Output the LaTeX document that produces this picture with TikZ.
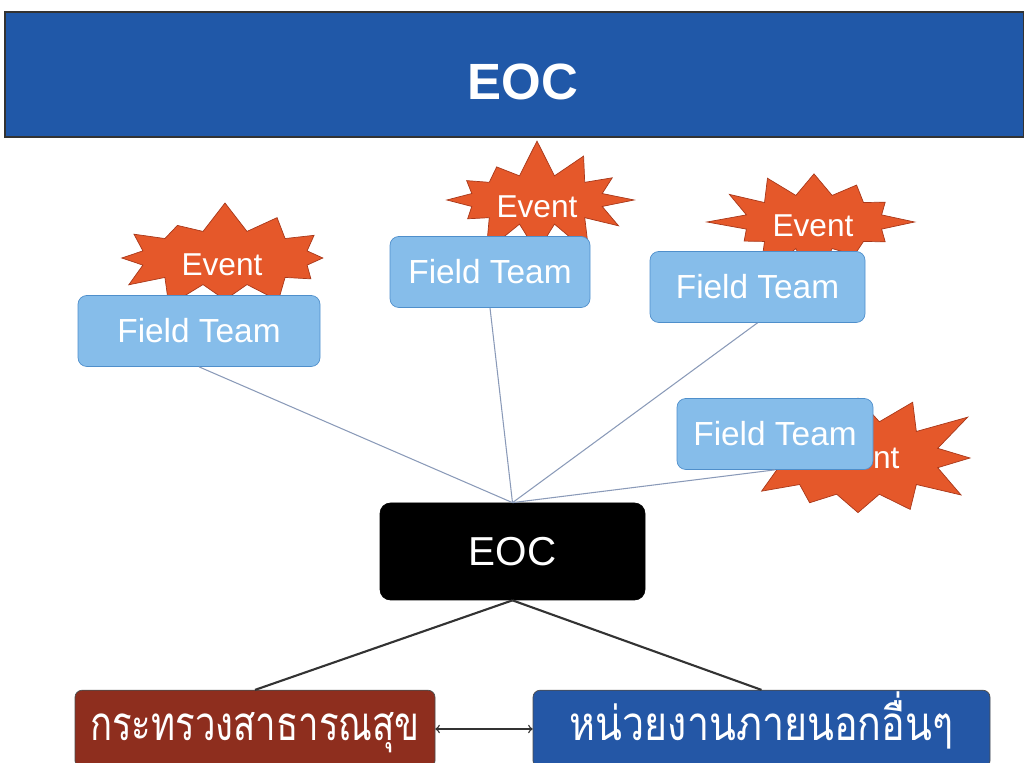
\documentclass[tikz,border=0pt]{standalone}
\usepackage{fontspec}
\setmainfont{Liberation Sans}
\newfontfamily\thaifont[Script=Thai]{Loma}
\usetikzlibrary{shapes.symbols}

\definecolor{bannerblue}{HTML}{2058A8}
\definecolor{ftfill}{HTML}{86BDEA}
\definecolor{ftline}{HTML}{4F8FCB}
\definecolor{evfill}{HTML}{E5582A}
\definecolor{evline}{HTML}{A8381A}
\definecolor{mophred}{HTML}{8E2E1E}
\definecolor{otherblue}{HTML}{2457A6}
\definecolor{spoke}{HTML}{8A9AB8}

\tikzset{
  fieldteam/.style={rectangle, rounded corners=5pt, draw=ftline, fill=ftfill, text=white,
    font=\fontsize{19}{19}\selectfont, minimum height=1.42cm},
  event/.style={starburst, starburst points=12, draw=evline, fill=evfill, inner sep=0pt},
  eventtext/.style={text=white, font=\fontsize{18}{18}\selectfont},
  unit/.style={rectangle, rounded corners=4pt, draw=black!70, text=white,
    font=\thaifont\fontsize{27}{27}\selectfont, text height=0.75cm, text depth=0.3cm,
    inner sep=0.25cm},
}

\begin{document}
\begin{tikzpicture}
\useasboundingbox (0,0) rectangle (20.48,15.26);
\filldraw [fill=bannerblue, draw=black!80, line width=1pt] (0.1,12.52) rectangle (20.48,15.02);
\node[text=white, font=\bfseries\fontsize{29}{29}\selectfont] (title) at (10.46,13.62) {EOC};

\node[event, minimum width=5.0cm, minimum height=2.7cm, starburst point height=0.8cm, random starburst=31] (ev1) at (4.5,10.1) {};
\node[event, minimum width=4.2cm, minimum height=2.5cm, starburst point height=0.75cm, random starburst=7] (ev2) at (10.74,11.26) {};
\node[event, minimum width=4.4cm, minimum height=2.7cm, starburst point height=0.8cm, random starburst=12] (ev3) at (16.28,10.82) {};
\node[event, minimum width=5.1cm, minimum height=3.3cm, starburst point height=0.9cm, random starburst=45] (ev4) at (17.16,6.1) {};
\node[eventtext] (evt1) at (4.44,9.96) {Event};
\node[eventtext] (evt2) at (10.74,11.12) {Event};
\node[eventtext] (evt3) at (16.26,10.74) {Event};
\node[eventtext] (evt4) at (17.18,6.1) {Event};

\node[fieldteam, minimum width=4.84cm] (ft1) at (3.98,8.64) {Field Team};
\node[fieldteam, minimum width=4.0cm] (ft2) at (9.8,9.82) {Field Team};
\node[fieldteam, minimum width=4.3cm] (ft3) at (15.15,9.52) {Field Team};
\node[fieldteam, minimum width=3.92cm] (ft4) at (15.5,6.58) {Field Team};

\node[rectangle, rounded corners=6pt, fill=black, draw=black, text=white, font=\fontsize{23}{23}\selectfont,
  minimum width=5.3cm, minimum height=1.94cm] (eoc) at (10.25,4.23) {EOC};

\node[unit, fill=mophred, minimum width=7.2cm] (moph) at (5.1,0.68) {\scalebox{0.77}[1]{กระทรวงสาธารณสุข}};
\node[unit, fill=otherblue, minimum width=9.14cm] (other) at (15.23,0.68) {\scalebox{0.83}[1]{หน่วยงานภายนอกอื่นๆ}};

\draw[spoke, line width=0.6pt] (eoc.north) -- (ft1.south);
\draw[spoke, line width=0.6pt] (eoc.north) -- (ft2.south);
\draw[spoke, line width=0.6pt] (eoc.north) -- (ft3.south);
\draw[spoke, line width=0.6pt] (eoc.north) -- (ft4.south);
\draw[black!80, line width=1.2pt] (eoc.south) -- (moph.north);
\draw[black!80, line width=1.2pt] (eoc.south) -- (other.north);
\draw[<->, black!80, line width=0.8pt] (moph.east) -- (other.west);
\end{tikzpicture}
\end{document}
